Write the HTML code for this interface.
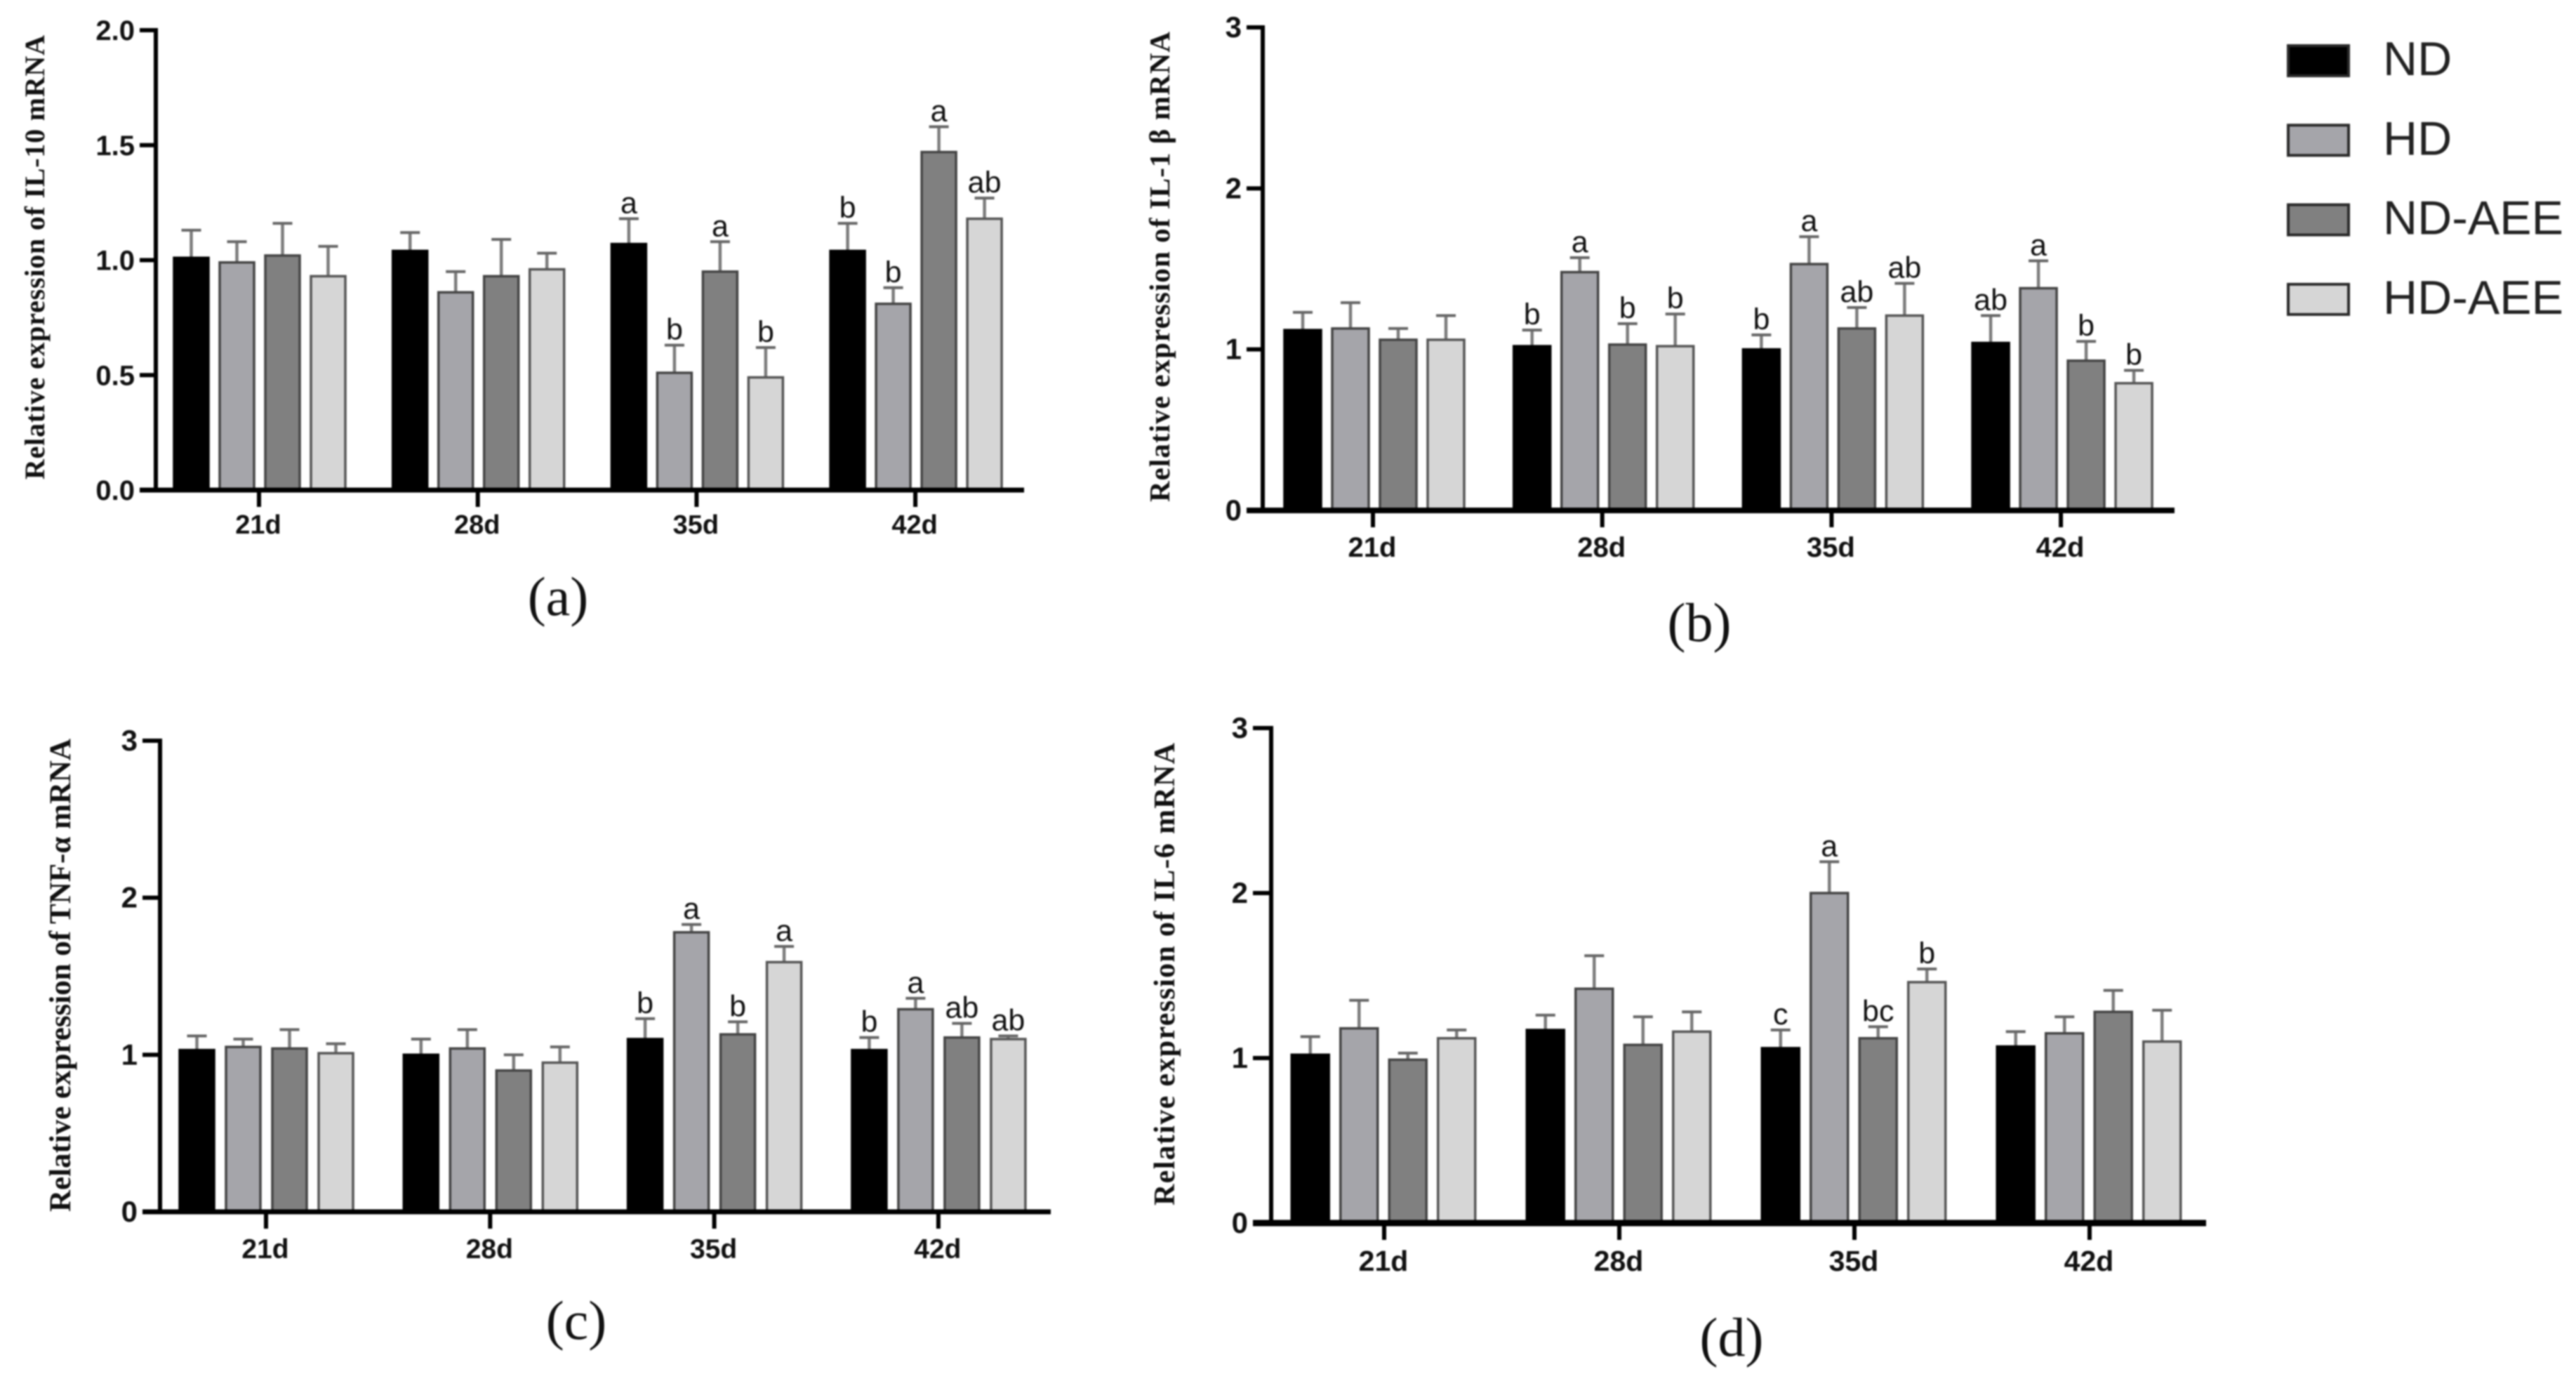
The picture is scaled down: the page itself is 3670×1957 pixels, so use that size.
<!DOCTYPE html>
<html lang="en">
<head>
<meta charset="utf-8">
<title>Relative expression of cytokine mRNA</title>
<style>
  html, body { margin: 0; padding: 0; background: #fff; }
  #figure { display: block; width: 3670px; height: 1957px; filter: blur(1px); }
  .sans { font-family: "Liberation Sans", sans-serif; }
  .serif { font-family: "Liberation Serif", serif; }
</style>
</head>
<body>
<svg id="figure" xmlns="http://www.w3.org/2000/svg" width="3670" height="1957" viewBox="0 0 3670 1957"></svg>
<script>
// ---- shared data ----
const categories = ['21d', '28d', '35d', '42d'];
const seriesNames = ['ND', 'HD', 'ND-AEE', 'HD-AEE'];
const seriesColors = ['#000000', '#a5a5aa', '#808080', '#d6d6d6'];
const seriesStrokes = ['#000000', '#444444', '#444444', '#555555'];

// ---- IL-10 (a): rows are days, columns are series ----
const il10Means = [[1.01, 0.99, 1.02, 0.93], [1.04, 0.86, 0.93, 0.96], [1.07, 0.51, 0.95, 0.49], [1.04, 0.81, 1.47, 1.18]];
const il10Errors = [[0.12, 0.09, 0.14, 0.13], [0.08, 0.09, 0.16, 0.07], [0.11, 0.12, 0.13, 0.13], [0.12, 0.07, 0.11, 0.09]];
const il10Letters = [['', '', '', ''], ['', '', '', ''], ['a', 'b', 'a', 'b'], ['b', 'b', 'a', 'ab']];
const il10Ticks = ['0.0', '0.5', '1.0', '1.5', '2.0'];

// ---- IL-1β (b) ----
const il1bMeans = [[1.12, 1.13, 1.06, 1.06], [1.02, 1.48, 1.03, 1.02], [1.00, 1.53, 1.13, 1.21], [1.04, 1.38, 0.93, 0.79]];
const il1bErrors = [[0.11, 0.16, 0.07, 0.15], [0.10, 0.09, 0.13, 0.20], [0.09, 0.17, 0.13, 0.20], [0.17, 0.17, 0.12, 0.08]];
const il1bLetters = [['', '', '', ''], ['b', 'a', 'b', 'b'], ['b', 'a', 'ab', 'ab'], ['ab', 'a', 'b', 'b']];
const il1bTicks = ['0', '1', '2', '3'];

// ---- TNF-α (c) ----
const tnfMeans = [[1.03, 1.05, 1.04, 1.01], [1.00, 1.04, 0.90, 0.95], [1.10, 1.78, 1.13, 1.59], [1.03, 1.29, 1.11, 1.10]];
const tnfErrors = [[0.09, 0.05, 0.12, 0.06], [0.10, 0.12, 0.10, 0.10], [0.13, 0.05, 0.08, 0.10], [0.08, 0.07, 0.09, 0.02]];
const tnfLetters = [['', '', '', ''], ['', '', '', ''], ['b', 'a', 'b', 'a'], ['b', 'a', 'ab', 'ab']];
const tnfTicks = ['0', '1', '2', '3'];

// ---- IL-6 (d) ----
const il6Means = [[1.02, 1.18, 0.99, 1.12], [1.17, 1.42, 1.08, 1.16], [1.06, 2.00, 1.12, 1.46], [1.07, 1.15, 1.28, 1.10]];
const il6Errors = [[0.11, 0.17, 0.04, 0.05], [0.09, 0.20, 0.17, 0.12], [0.11, 0.19, 0.07, 0.08], [0.09, 0.10, 0.13, 0.19]];
const il6Letters = [['', '', '', ''], ['', '', '', ''], ['c', 'a', 'bc', 'b'], ['', '', '', '']];
const il6Ticks = ['0', '1', '2', '3'];

const svg = document.getElementById('figure');
const NS = 'http://www.w3.org/2000/svg';

function make(parent, tag, attrs, text) {
  const node = document.createElementNS(NS, tag);
  for (const key in attrs) node.setAttribute(key, attrs[key]);
  if (text !== undefined) node.textContent = text;
  parent.appendChild(node);
  return node;
}

function drawPanel(p, means, errors, letters, ticks) {
  const group = make(svg, 'g', {});
  
  

  const yMax = parseFloat(ticks[ticks.length - 1]);
  const yScale = function (v) { return p.y0 - (v / yMax) * (p.y0 - p.yTop); };
  const xScale = function (g) { return p.tick0 + g * p.tickStep; };
  const barX = function (g, s) { return xScale(g) + p.barShift + (s - 1.5) * p.barStep; };

  // bars, whiskers, letters
  means.forEach(function (row, g) {
    row.forEach(function (value, s) {
      const cx = barX(g, s);
      const top = yScale(value);
      const errTop = yScale(value + errors[g][s]);

      const stem = make(group, 'line', { x1: cx, x2: cx, y1: top, y2: errTop, stroke: '#7c7c7c', 'stroke-width': 4.5 });
      
      

      const cap = make(group, 'line', { x1: cx - 14, x2: cx + 14, y1: errTop, y2: errTop, stroke: '#666', 'stroke-width': 4 });
      
      

      const bar = make(group, 'rect', {
        x: cx - p.barWidth / 2, y: top, width: p.barWidth, height: p.y0 - top,
        fill: seriesColors[s], stroke: seriesStrokes[s], 'stroke-width': 3.5
      });
      
      

      if (letters[g][s]) {
        const mark = make(group, 'text', {
          x: cx, y: errTop - 8, 'text-anchor': 'middle', 'font-size': 43, fill: '#111', class: 'sans'
        }, letters[g][s]);
        
        
      }
    });
  });

  // y axis
  const yAxis = make(group, 'line', { x1: p.x0, x2: p.x0, y1: p.yTop - 3, y2: p.y0, stroke: '#000', 'stroke-width': 6 });
  
  

  ticks.forEach(function (label) {
    const v = parseFloat(label);
    const tick = make(group, 'line', { x1: p.xLeft, x2: p.x0, y1: yScale(v), y2: yScale(v), stroke: '#000', 'stroke-width': 6 });
    
    

    const tickLabel = make(group, 'text', {
      x: p.xLeft - 7, y: yScale(v) + 14, 'text-anchor': 'end', 'font-size': p.yFont, 'font-weight': 'bold', fill: '#111', class: 'sans'
    }, label);
    
    
  });

  // x axis
  const xAxis = make(group, 'line', { x1: p.xLeft, x2: p.xRight, y1: p.y0, y2: p.y0, stroke: '#000', 'stroke-width': p.axisWidth });
  
  

  categories.forEach(function (label, g) {
    const tick = make(group, 'line', { x1: xScale(g), x2: xScale(g), y1: p.y0, y2: p.y0 + 24, stroke: '#000', 'stroke-width': 6 });
    
    

    const tickLabel = make(group, 'text', {
      x: xScale(g) - 1, y: p.y0 + p.xLabelGap, 'text-anchor': 'middle', 'font-size': p.xFont, 'font-weight': 'bold', fill: '#111', class: 'sans'
    }, label);
    
    
  });

  // y axis title
  const title = make(group, 'text', {
    x: 0, y: 0, transform: 'translate(' + p.titleX + ',' + p.titleBottom + ') rotate(-90)',
    'font-size': p.titleFont, 'font-weight': 'bold', fill: '#111', class: 'serif',
    textLength: p.titleLength, lengthAdjust: 'spacing'
  }, p.title);
  
  

  // panel caption
  const caption = make(group, 'text', {
    x: p.captionX, y: p.captionY, 'text-anchor': 'middle', 'font-size': 78, fill: '#111', class: 'serif'
  }, p.caption);
  
  
}

drawPanel({
  id: 'il10', title: 'Relative expression of IL-10 mRNA', caption: '(a)',
  x0: 222, xLeft: 199, xRight: 1459, yTop: 43, y0: 698, axisWidth: 7,
  tick0: 369, tickStep: 311.7, barShift: 1, barStep: 65, barWidth: 49,
  yFont: 40, xFont: 38, xLabelGap: 62,
  titleFont: 40, titleX: 63, titleBottom: 683, titleLength: 633, captionX: 795, captionY: 876
}, il10Means, il10Errors, il10Letters, il10Ticks);

drawPanel({
  id: 'il1b', title: 'Relative expression of IL-1 β mRNA', caption: '(b)',
  x0: 1799, xLeft: 1776, xRight: 3098, yTop: 39, y0: 727, axisWidth: 8,
  tick0: 1956, tickStep: 326.7, barShift: 2, barStep: 68, barWidth: 52,
  yFont: 42, xFont: 40, xLabelGap: 66,
  titleFont: 41, titleX: 1666, titleBottom: 715, titleLength: 670, captionX: 2421, captionY: 913
}, il1bMeans, il1bErrors, il1bLetters, il1bTicks);

drawPanel({
  id: 'tnf', title: 'Relative expression of TNF-α mRNA', caption: '(c)',
  x0: 228, xLeft: 203, xRight: 1497, yTop: 1055, y0: 1726, axisWidth: 7,
  tick0: 379, tickStep: 319.3, barShift: 0.5, barStep: 66, barWidth: 49,
  yFont: 42, xFont: 39, xLabelGap: 66,
  titleFont: 43, titleX: 100, titleBottom: 1726, titleLength: 674, captionX: 821, captionY: 1907
}, tnfMeans, tnfErrors, tnfLetters, tnfTicks);

drawPanel({
  id: 'il6', title: 'Relative expression of IL-6 mRNA', caption: '(d)',
  x0: 1811, xLeft: 1785, xRight: 3143, yTop: 1037, y0: 1742, axisWidth: 9,
  tick0: 1972, tickStep: 335, barShift: -1, barStep: 69.5, barWidth: 53,
  yFont: 42, xFont: 41, xLabelGap: 68,
  titleFont: 42, titleX: 1673, titleBottom: 1717, titleLength: 659, captionX: 2467, captionY: 1931
}, il6Means, il6Errors, il6Letters, il6Ticks);

// legend
const legend = make(svg, 'g', {});


seriesNames.forEach(function (name, i) {
  const rowY = 65 + i * 113.3;
  const swatch = make(legend, 'rect', {
    x: 3260, y: rowY, width: 86, height: 43,
    fill: seriesColors[i], stroke: '#2a2a2a', 'stroke-width': 4
  });
  
  

  const label = make(legend, 'text', {
    x: 3395, y: rowY + 42, 'font-size': 68, fill: '#222', class: 'sans'
  }, name);
  
  
});
</script>
</body>
</html>
